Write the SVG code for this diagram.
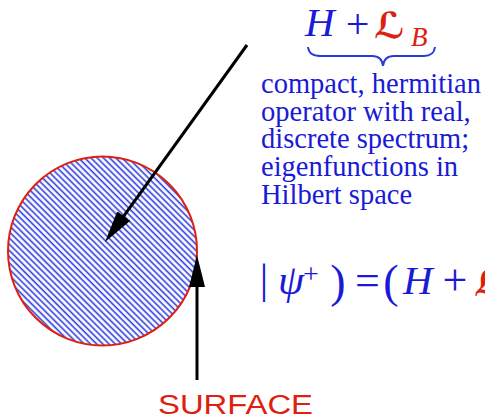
<svg xmlns="http://www.w3.org/2000/svg" width="485" height="420" viewBox="0 0 485 420">
  <style>
    .blue { fill: #1a1ad6; }
    .red { fill: #dd2010; }
    .serif { font-family: "Liberation Serif", "Times New Roman", serif; }
    .it { font-style: italic; }
    .desc { font-family: "Liberation Serif", "Times New Roman", serif; font-size: 28.5px; fill: #1a1ad6; }
    .script { font-family: "DejaVu Serif", "DejaVu Sans", serif; font-style: italic; font-weight: bold; fill: #dd2010; }
    .conn { stroke: #000; stroke-width: 3; fill: none; }
  </style>
  <defs>
    <pattern id="hatch" patternUnits="userSpaceOnUse" width="4.4" height="4.4" patternTransform="rotate(-45)">
      <rect width="4.4" height="4.4" fill="#ffffff"/>
      <line x1="1.1" y1="0" x2="1.1" y2="4.4" stroke="#3a48e0" stroke-width="1.7"/>
    </pattern>
    <marker id="arrow" markerUnits="userSpaceOnUse" viewBox="0 0 32 16" markerWidth="32" markerHeight="16" refX="12" refY="8" orient="auto">
      <path d="M0,0 L32,8 L0,16 z" fill="#000"/>
    </marker>
  </defs>

  <g id="region">
    <circle cx="102.5" cy="251" r="94.5" fill="url(#hatch)" stroke="#dd2010" stroke-width="2"/>
  </g>

  <g id="operator">
    <text class="serif it blue" x="305" y="36" font-size="41">H</text>
    <text class="serif blue" x="357.5" y="37.5" font-size="42" text-anchor="middle">+</text>
    <text class="script" x="374" y="38" font-size="36">ℒ</text>
    <text class="serif it red" x="411" y="46" font-size="27">B</text>
    <path d="M308,47 Q309,56 320,56 L372,56 Q382,56 383,66 Q384,56 394,56 L424,56 Q434,56 435,47" fill="none" stroke="#2a3ad6" stroke-width="2"/>
  </g>

  <g id="description">
    <text class="desc" x="261" y="93">compact, hermitian</text>
    <text class="desc" x="261" y="120.5">operator with real,</text>
    <text class="desc" x="261" y="148">discrete spectrum;</text>
    <text class="desc" x="261" y="176">eigenfunctions in</text>
    <text class="desc" x="261" y="204">Hilbert space</text>
  </g>

  <g id="equation">
    <text class="serif blue" x="264" y="293" font-size="42" text-anchor="middle">|</text>
    <text class="serif it blue" x="291" y="294" font-size="42" text-anchor="middle">ψ</text>
    <text class="serif blue" x="311" y="283" font-size="28" text-anchor="middle">+</text>
    <text class="serif blue" x="338" y="297" font-size="46" text-anchor="middle">)</text>
    <text class="serif blue" x="367.5" y="295" font-size="44" text-anchor="middle">=</text>
    <text class="serif blue" x="391" y="297" font-size="46" text-anchor="middle">(</text>
    <text class="serif it blue" x="403" y="294" font-size="41">H</text>
    <text class="serif blue" x="455" y="295" font-size="44" text-anchor="middle">+</text>
    <text class="script" x="474" y="296" font-size="36">ℒ</text>
  </g>

  <g id="surface-label">
    <text x="158" y="414" font-family="'Liberation Sans', Arial, sans-serif" font-size="27" fill="#dd2010" textLength="155" lengthAdjust="spacingAndGlyphs">SURFACE</text>
  </g>

  <g id="connectors">
    <line class="conn" x1="247" y1="45" x2="116.7" y2="225.8" marker-end="url(#arrow)"/>
    <line class="conn" x1="197" y1="380" x2="197" y2="275" marker-end="url(#arrow)"/>
  </g>
</svg>
